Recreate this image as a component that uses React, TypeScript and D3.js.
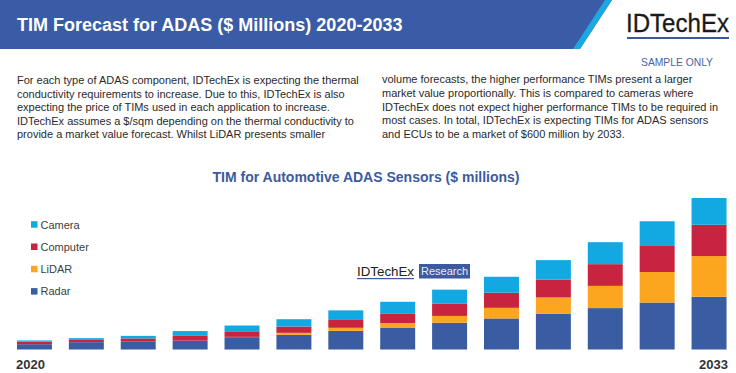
import React from "react";
import * as d3 from "d3";

const years = ["2020","2021","2022","2023","2024","2025","2026","2027","2028","2029","2030","2031","2032","2033"];
const radar = [21, 29, 31, 35, 49, 58, 74, 87, 106, 123, 141, 164, 186, 209];
const lidar = [0, 0, 0, 0, 1, 8, 12, 18, 27, 42, 65, 88, 121, 161];
const computer = [10, 9, 13, 19, 22, 25, 31, 38, 48, 60, 71, 86, 103, 124];
const camera = [5, 7, 10, 19, 23, 29, 38, 46, 56, 63, 77, 87, 98, 106];
const seriesNames = ["Radar", "LiDAR", "Computer", "Camera"];
const legendOrder = ["Camera", "Computer", "LiDAR", "Radar"];

const leftLines = [
  "For each type of ADAS component, IDTechEx is expecting the thermal",
  "conductivity requirements to increase. Due to this, IDTechEx is also",
  "expecting the price of TIMs used in each application to increase.",
  "IDTechEx assumes a $/sqm depending on the thermal conductivity to",
  "provide a market value forecast. Whilst LiDAR presents smaller",
];
const rightLines = [
  "volume forecasts, the higher performance TIMs present a larger",
  "market value proportionally. This is compared to cameras where",
  "IDTechEx does not expect higher performance TIMs to be required in",
  "most cases. In total, IDTechEx is expecting TIMs for ADAS sensors",
  "and ECUs to be a market of $600 million by 2033.",
];

const colors: Record<string, string> = {
  Radar: "#3a5ca3",
  LiDAR: "#fba61e",
  Computer: "#c9243f",
  Camera: "#12a9e2",
};

export default function App() {
  const W = 736, H = 373;
  const rows = years.map((y, i) => ({
    year: y,
    Radar: radar[i],
    LiDAR: lidar[i],
    Computer: computer[i],
    Camera: camera[i],
  }));
  const stack = d3.stack<any>().keys(seriesNames)(rows);
  const x = d3.scaleBand().domain(years).range([8.5, 735]).paddingInner(0.326).paddingOuter(0.163);
  const y = d3.scaleLinear().domain([0, 600]).range([349.5, 198]);
  const font = "'Liberation Sans', Arial, sans-serif";

  return (
    <svg width={W} height={H} style={{ position: "absolute", left: 0, top: 0, background: "#fff" }} fontFamily={font}>
      {/* header banner */}
      <polygon points="0,0 612,0 580,49 0,49" fill="#3a5ba6" />
      <polygon points="605,0 612,0 580,49 573,49" fill="#1ba8e0" />
      <text x={17} y={31} fill="#fff" fontSize={18} fontWeight="bold">TIM Forecast for ADAS ($ Millions) 2020-2033</text>
      {/* logo */}
      <text x={626} y={32} fill="#1a1a1a" fontSize={25} fontFamily="'Liberation Sans Narrow', 'Liberation Sans', Arial" textLength={103} lengthAdjust="spacingAndGlyphs" stroke="#1a1a1a" strokeWidth={0.3}>IDTechEx</text>
      <rect x={627} y={37} width={102} height={2} fill="#3a5a9a" />
      <text x={677} y={65.5} fill="#4a63a0" fontSize={10.5} textAnchor="middle" textLength={72} lengthAdjust="spacingAndGlyphs">SAMPLE ONLY</text>

      {/* paragraphs */}
      {leftLines.map((l, i) => (
        <text key={"l" + i} x={17} y={84 + i * 13.6} fontSize={11} fill="#2a2a2a">{l}</text>
      ))}
      {rightLines.map((l, i) => (
        <text key={"r" + i} x={382} y={83 + i * 13.8} fontSize={11} fill="#2a2a2a">{l}</text>
      ))}

      {/* chart title */}
      <text x={366} y={182} fontSize={14} fontWeight="bold" fill="#3a5ba0" textAnchor="middle">TIM for Automotive ADAS Sensors ($ millions)</text>

      {/* legend */}
      {legendOrder.map((n, i) => (
        <g key={n} transform={`translate(31, ${224.5 + i * 22.3})`}>
          <rect x={0} y={-3.3} width={6.5} height={6.5} fill={colors[n]} />
          <text x={9.5} y={4} fontSize={11} fill="#404040">{n}</text>
        </g>
      ))}

      {/* watermark */}
      <text x={357} y={276} fontSize={13.5} fill="#222" textLength={57} lengthAdjust="spacingAndGlyphs">IDTechEx</text>
      <rect x={357} y={278} width={57} height={1.2} fill="#3a5a9a" />
      <rect x={419} y={264} width={51} height={14.5} fill="#3d5a9e" />
      <text x={444.5} y={275} fontSize={11} fill="#e8ecf5" textAnchor="middle">Research</text>

      {/* bars */}
      {stack.map((s) => (
        <g key={s.key} fill={colors[s.key]}>
          {s.map((d, i) => (
            <rect
              key={i}
              x={x(years[i])}
              y={y(d[1])}
              width={x.bandwidth()}
              height={Math.max(0, y(d[0]) - y(d[1]))}
            />
          ))}
        </g>
      ))}

      {/* year labels */}
      <text x={16} y={369} fontSize={13} fontWeight="bold" fill="#333">{years[0]}</text>
      <text x={728} y={369} fontSize={13} fontWeight="bold" fill="#333" textAnchor="end">{years[years.length - 1]}</text>
    </svg>
  );
}
